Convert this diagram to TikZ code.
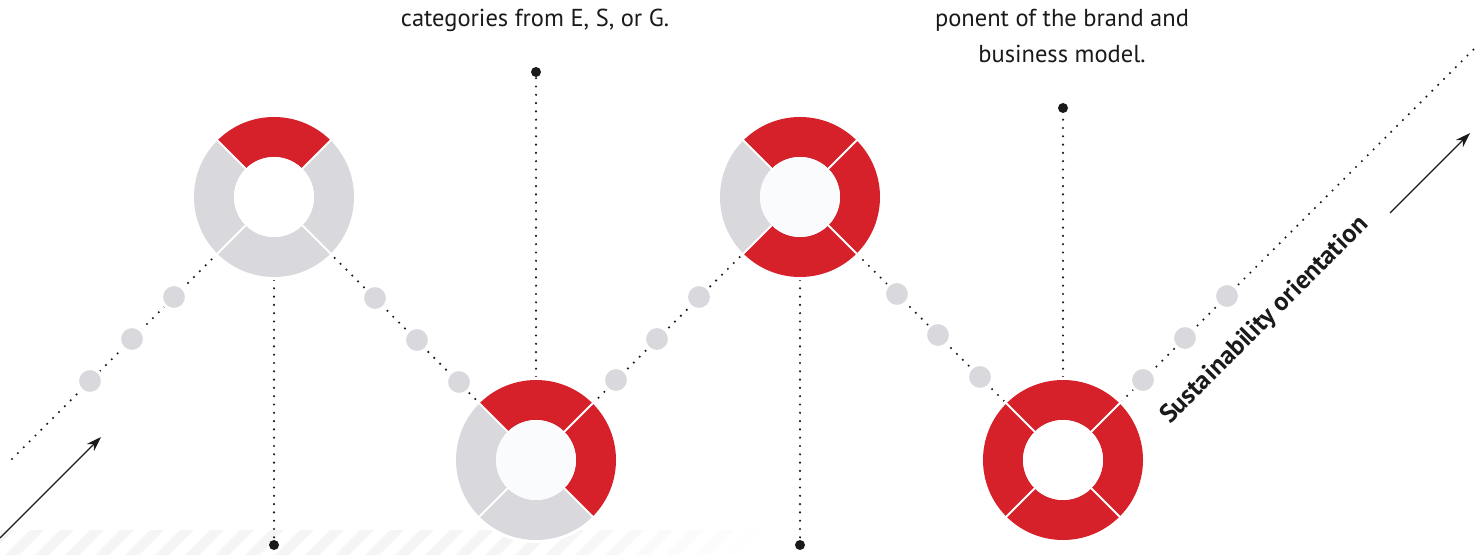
\documentclass[tikz,border=0pt]{standalone}
\usepackage{fontspec}
\setmainfont{PT Sans}
\usetikzlibrary{arrows.meta,calc}
\definecolor{pred}{HTML}{D6202A}
\definecolor{pgray}{HTML}{D9D9DD}
\definecolor{ink}{HTML}{1A1A1A}
\definecolor{stripe}{HTML}{F5F5F5}
\definecolor{hole}{HTML}{FAFBFC}

\tikzset{
  dotline/.style={line width=2.4pt, line cap=round, dash pattern=on 0pt off 8.3pt, color=ink},
  graydot/.style={circle, fill=pgray, draw=white, line width=3pt, minimum size=25pt, inner sep=0pt},
  enddot/.style={circle, fill=ink, minimum size=10pt, inner sep=0pt},
  arrowline/.style={line width=1.3pt, color=ink, -{Stealth[length=15pt,width=10pt]}},
  caption/.style={font=\fontsize{24.5}{36}\selectfont, text=ink, anchor=base, inner sep=0pt},
  axislabel/.style={font=\bfseries\fontsize{26}{28}\selectfont, text=ink, anchor=base west, inner sep=0pt, rotate=45},
}

% one quarter of a ring: centre, start angle, end angle, colour
\newcommand\ringpart[4]{%
  \fill[#4] ($(#1)+(#2:80)$) arc[start angle=#2,end angle=#3,radius=80]
    -- ($(#1)+(#3:40)$) arc[start angle=#3,end angle=#2,radius=40] -- cycle;}
% full ring: centre, colours of top, left, bottom, right quarters, hole fill
\newcommand\quadring[6]{%
  \draw[white, line width=3pt] (#1) circle[radius=81.5];
  \ringpart{#1}{45}{135}{#2}
  \ringpart{#1}{135}{225}{#3}
  \ringpart{#1}{225}{315}{#4}
  \ringpart{#1}{-45}{45}{#5}
  \fill[#6] (#1) circle[radius=40];
  \foreach \a in {45,135,225,315}
    \draw[white, line width=2pt] ($(#1)+(\a:38)$) -- ($(#1)+(\a:83)$);}

\begin{document}
\begin{tikzpicture}[x=1pt,y=1pt]
\useasboundingbox (0,0) rectangle (1475,555);

% hatched floor band, fading out to the right
\foreach \i in {0,...,25} {
  \pgfmathsetmacro\xs{-25+30*\i}
  \pgfmathsetmacro\op{max(0,min(1,(750-\xs)/220))}
  \fill[stripe, opacity=\op] (\xs,0) -- ++(14,0) -- ++(25,25) -- ++(-14,0) -- cycle;
}

% path anchors
\coordinate (s0) at (12,96);
\coordinate (r1) at (274,358);
\coordinate (r2) at (536,95);
\coordinate (r3) at (800,358);
\coordinate (r4) at (1063,95);
\coordinate (s5) at (1475,507);

% end markers of the vertical leaders
\node[enddot] (d1) at (274,10) {};
\node[enddot] (d2) at (536,483) {};
\node[enddot] (d3) at (800,10) {};
\node[enddot] (d4) at (1063,447) {};

% dotted zigzag and leaders
\draw[dotline] (s0) -- (r1) -- (r2) -- (r3) -- (r4) -- (s5);
\draw[dotline] (r1) -- (d1);
\draw[dotline] (r2) -- (d2);
\draw[dotline] (r3) -- (d3);
\draw[dotline] (r4) -- (d4);

% grey stepping dots
\foreach \x/\y [count=\n] in {90/174,132/216,174/258,
    375/257,417/215,459/173,
    616/175,657/216,699/258,
    897/261,938/220,980/178,
    1143/175,1185/217,1227/259}
  \node[graydot] (g\n) at (\x,\y) {};

% maturity rings
\quadring{r1}{pred}{pgray}{pgray}{pgray}{white}
\quadring{r2}{pred}{pgray}{pgray}{pred}{hole}
\quadring{r3}{pred}{pgray}{pred}{pred}{hole}
\quadring{r4}{pred}{pred}{pred}{pred}{white}

% direction arrows
\coordinate (a0) at (0,17);
\coordinate (a1) at (101,118);
\draw[arrowline] (a0) -- (a1);
\coordinate (b0) at (1390,342);
\coordinate (b1) at (1470,422);
\draw[arrowline] (b0) -- (b1);

\node[axislabel] (lab) at (1170,130) {Sustainability orientation};

% captions
\node[caption] (c2) at (535,528) {categories from E, S, or G.};
\node[caption] (c4a) at (1062,528) {ponent of the brand and};
\node[caption] (c4b) at (1062,492) {business model.};
\end{tikzpicture}
\end{document}
